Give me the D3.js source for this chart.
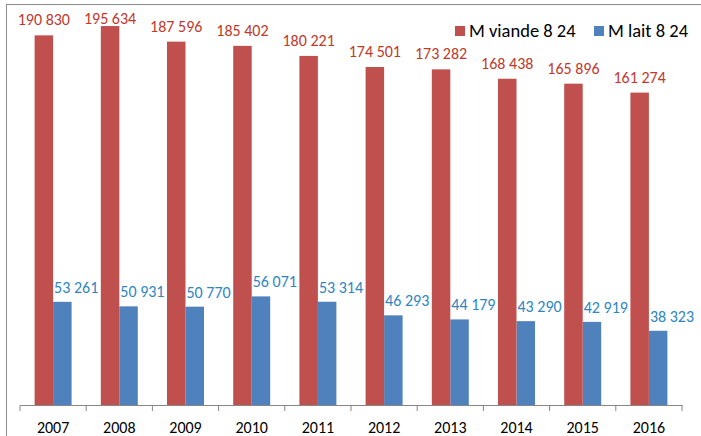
<!DOCTYPE html>
<html><head><meta charset="utf-8">
<script src="https://cdn.jsdelivr.net/npm/d3@7"></script>
<style>
html,body{margin:0;padding:0;background:#fff;}
svg{display:block;font-family:"Carlito","Calibri","Lato",sans-serif;}
</style></head>
<body>
<svg id="chart" width="701" height="436"></svg>
<script>
const years = ["2007","2008","2009","2010","2011","2012","2013","2014","2015","2016"];
const viande = [190830,195634,187596,185402,180221,174501,173282,168438,165896,161274];
const lait = [53261,50931,50770,56071,53314,46293,44179,43290,42919,38323];
const seriesNames = ["M viande 8 24","M lait 8 24"];
const colors = ["#C0504D","#4F81BD"];
const labelColors = ["#C0392B","#2E86C1"];

const svg = d3.select("#chart");
const fr = d3.formatLocale({decimal:",",thousands:"\u00a0",grouping:[3],currency:["","€"]});
const fmt = fr.format(",");

// outer border
svg.append("rect").attr("x",6.5).attr("y",4.5).attr("width",720).attr("height",460)
  .attr("fill","none").attr("stroke","#8c8c8c").attr("stroke-width",1);

const x = d3.scaleBand().domain(years).range([20,682]).paddingInner(0).paddingOuter(0);
const xs = d3.scaleBand().domain(["viande","lait"]).range([0,x.bandwidth()]).paddingInner(0).paddingOuter(0.79);
const y = d3.scaleLinear().domain([0,200000]).range([405,17.6]);

// axis
const axis = d3.axisBottom(x).tickSize(0).tickSizeOuter(0).tickPadding(0);
const gx = svg.append("g").attr("transform","translate(0,405)").call(axis);
gx.select(".domain").attr("stroke","#868686");
gx.selectAll(".tick text").attr("font-size",16).attr("fill","#000").attr("y",28).attr("dy",0)
  .style("font-family",'"Carlito","Calibri","Lato",sans-serif');
// boundary ticks
const bounds = years.map(d=>x(d)).concat([x(years[years.length-1])+x.bandwidth()]);
svg.append("g").selectAll("line").data(bounds).join("line")
  .attr("x1",d=>d).attr("x2",d=>d).attr("y1",405).attr("y2",411)
  .attr("stroke","#868686");

// blue bars
svg.append("g").selectAll("rect").data(lait).join("rect")
  .attr("x",(d,i)=>x(years[i])+xs("lait"))
  .attr("y",d=>y(d)).attr("width",xs.bandwidth()).attr("height",d=>405-y(d))
  .attr("fill",colors[1]);
// blue labels (drawn under red bars)
svg.append("g").selectAll("text").data(lait).join("text")
  .attr("x",(d,i)=>x(years[i])+xs("lait")+1)
  .attr("y",d=>y(d)-9)
  .attr("text-anchor","start").attr("font-size",16).attr("fill",labelColors[1])
  .text(d=>fmt(d));
// red bars
svg.append("g").selectAll("rect").data(viande).join("rect")
  .attr("x",(d,i)=>x(years[i])+xs("viande"))
  .attr("y",d=>y(d)).attr("width",xs.bandwidth()).attr("height",d=>405-y(d))
  .attr("fill",colors[0]);
// red labels
svg.append("g").selectAll("text").data(viande).join("text")
  .attr("x",(d,i)=>x(years[i])+xs("viande")+xs.bandwidth()/2)
  .attr("y",d=>Math.max(y(d)-10,23.5))
  .attr("text-anchor","middle").attr("font-size",16).attr("fill",labelColors[0])
  .text(d=>fmt(d));

// legend
const legX = [455,594];
const lg = svg.append("g");
seriesNames.forEach((n,i)=>{
  lg.append("rect").attr("x",legX[i]).attr("y",26).attr("width",10).attr("height",10).attr("fill",colors[i]);
  lg.append("text").attr("x",legX[i]+14).attr("y",36.5).attr("font-size",18.5).attr("fill","#000").text(n);
});
</script>
</body></html>
